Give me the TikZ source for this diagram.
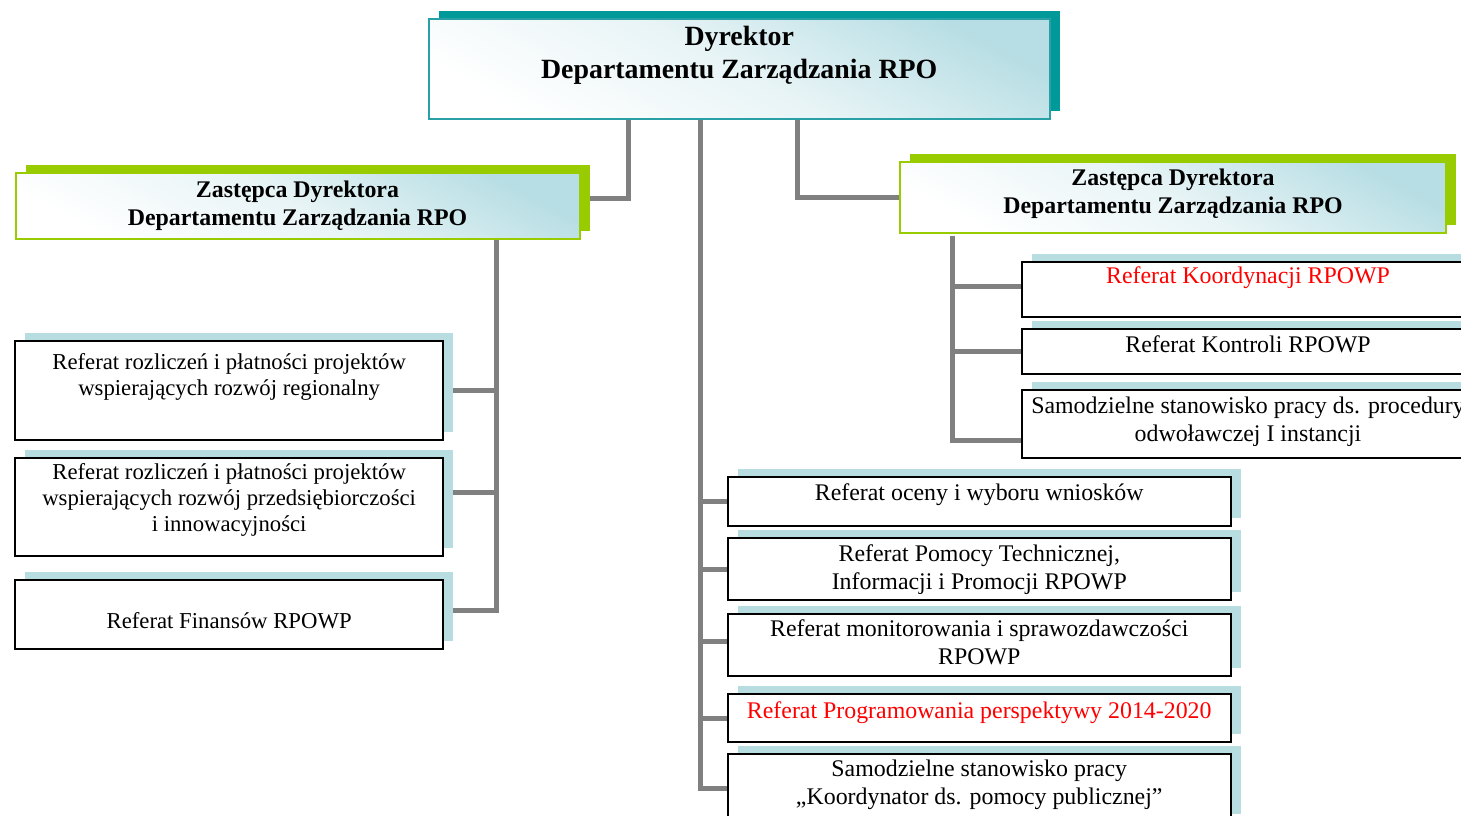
\documentclass[tikz,border=0pt]{standalone}
\usepackage{fontspec}
\setmainfont{Liberation Serif}
\usetikzlibrary{shadows,calc}
\newlength\px \setlength\px{0.75pt}
\definecolor{tealS}{RGB}{0,153,153}
\definecolor{tealB}{RGB}{40,160,165}
\definecolor{grn}{RGB}{153,204,0}
\definecolor{lbg}{RGB}{183,222,228}
\definecolor{lbm}{RGB}{232,244,246}
\definecolor{lbs}{RGB}{183,221,225}
\definecolor{connC}{RGB}{128,128,128}
\definecolor{redT}{RGB}{255,0,0}
\pgfdeclarelayer{bg}
\pgfsetlayers{bg,main}
\newcommand\boxtext[4]{\parbox[c][#2\px][t]{#1\px}{\centering\vspace*{#3\px}#4\par}}
\tikzset{
  every node/.style={inner sep=0pt, outer sep=0pt, anchor=north west},
  grad/.style={top color=lbg, bottom color=white, middle color=lbm, shading angle=-28},
  topbox/.style={draw=tealB, line width=1.5pt, grad,
    general shadow={fill=tealS, shadow xshift=7.5pt, shadow yshift=6pt},
    font=\fontsize{20.9pt}{24.75pt}\selectfont\bfseries},
  depbox/.style={draw=grn, line width=1.5pt, grad,
    general shadow={fill=grn, shadow xshift=7.5pt, shadow yshift=6pt},
    font=\fontsize{17.9pt}{21.3pt}\selectfont\bfseries},
  unitbox/.style={draw=black, line width=1.5pt, fill=white,
    general shadow={fill=lbs, shadow xshift=7.5pt, shadow yshift=6pt},
    font=\fontsize{17.9pt}{20.6pt}\selectfont},
  leftunit/.style={unitbox, font=\fontsize{17.05pt}{19.6pt}\selectfont},
  link/.style={draw=connC, line width=3.75pt},
}
\begin{document}
\begin{tikzpicture}[x=0.75pt, y=-0.75pt]
\useasboundingbox (0,0) rectangle (1461,816);

% top
\node[topbox] (dir) at (428.5,19.3) {\boxtext{621.5}{100}{7}{Dyrektor\\Departamentu Zarządzania RPO}};
% deputies
\node[depbox] (dep1) at (15.5,172.7) {\boxtext{564}{66.6}{7.8}{Zastępca Dyrektora\\Departamentu Zarządzania RPO}};
\node[depbox] (dep2) at (900,161.7) {\boxtext{546}{71}{7}{Zastępca Dyrektora\\Departamentu Zarządzania RPO}};

% left units
\node[leftunit] (L1) at (15,340.7) {\boxtext{428.3}{99.3}{13}{Referat rozliczeń i płatności projektów\\wspierających rozwój regionalny}};
\node[leftunit] (L2) at (15,458) {\boxtext{428.3}{97.7}{5}{Referat rozliczeń i płatności projektów\\wspierających rozwój przedsiębiorczości\\i innowacyjności}};
\node[leftunit] (L3) at (15,580) {\boxtext{428.3}{69}{32}{Referat Finansów RPOWP}};

% middle units
\node[unitbox] (m1) at (728,476.7) {\boxtext{502.5}{49}{6.5}{Referat oceny i wyboru wniosków}};
\node[unitbox] (m2) at (728,538.3) {\boxtext{502.5}{61.7}{6.5}{Referat Pomocy Technicznej,\\Informacji i Promocji RPOWP}};
\node[unitbox] (m3) at (728,614) {\boxtext{502.5}{61.7}{6}{Referat monitorowania i sprawozdawczości\\RPOWP}};
\node[unitbox] (m4) at (728,694.3) {\boxtext{502.5}{47.4}{7}{\color{redT}Referat Programowania perspektywy 2014-2020}};
\node[unitbox] (m5) at (728,754) {\boxtext{502.5}{68}{6}{Samodzielne stanowisko pracy\\„Koordynator ds. pomocy publicznej”}};

% right units
\node[unitbox] (R1) at (1022,261.7) {\boxtext{452}{55}{5}{\color{redT}Referat Koordynacji RPOWP}};
\node[unitbox] (R2) at (1022,329.3) {\boxtext{452}{45}{6.5}{Referat Kontroli RPOWP}};
\node[unitbox] (R3) at (1022,390) {\boxtext{452}{68.3}{7}{Samodzielne stanowisko pracy ds. procedury\\odwoławczej I instancji}};

% connectors
\begin{pgfonlayer}{bg}
\coordinate (ta) at ($(dir.south)+(-111,0)$);
\coordinate (tb) at ($(dir.south)+(-38.5,0)$);
\coordinate (tc) at ($(dir.south)+(58.3,0)$);
\coordinate (la) at ($(dep1.south)+(198.5,0)$);
\coordinate (ra) at ($(dep2.south)+(-221,3)$);

\draw[link] (ta) |- ($(dep1.east)+(0,-7)$);
\draw[link] (tc) |- (dep2.west);
\draw[link] (tb) |- (m5.west);
\draw[link] (m1.west) -- (m1.west -| tb);
\draw[link] (m2.west) -- (m2.west -| tb);
\draw[link] ($(m3.west)+(0,-3)$) -- ($(m3.west -| tb)+(0,-3)$);
\draw[link] (m4.west) -- (m4.west -| tb);

\draw[link] (la) |- ($(L3.east)+(0,-4.5)$);
\draw[link] (L1.east) -- (L1.east -| la);
\draw[link] ($(L2.east)+(0,-14)$) -- ($(L2.east -| la)+(0,-14)$);

\draw[link] (ra) |- ($(R3.west)+(0,16)$);
\draw[link] ($(R1.west)+(0,-2.5)$) -- ($(R1.west -| ra)+(0,-2.5)$);
\draw[link] (R2.west) -- (R2.west -| ra);
\end{pgfonlayer}
\end{tikzpicture}
\end{document}
